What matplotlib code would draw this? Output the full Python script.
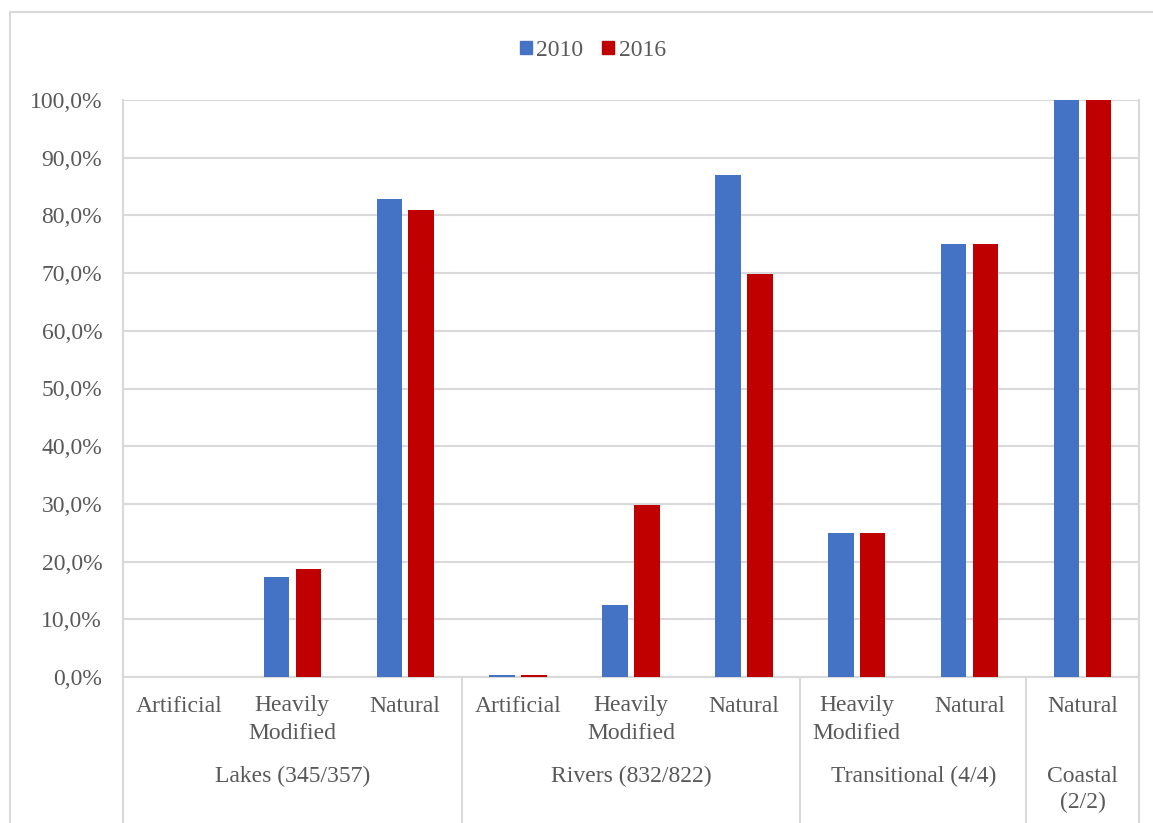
import numpy as np
import matplotlib
matplotlib.use("Agg")
import matplotlib.pyplot as plt
from matplotlib.patches import Patch
from matplotlib.lines import Line2D

# water body categories, grouped by type (counts 2010/2016 in group names)
groups = ["Lakes (345/357)", "Rivers (832/822)", "Transitional (4/4)", "Coastal\n(2/2)"]
group_sizes = [3, 3, 2, 1]
categories = ["Artificial", "Heavily\nModified", "Natural",
              "Artificial", "Heavily\nModified", "Natural",
              "Heavily\nModified", "Natural",
              "Natural"]
share_2010 = [0.0, 17.3, 82.8, 0.4, 12.4, 87.0, 25.0, 75.0, 100.0]
share_2016 = [0.0, 18.8, 80.9, 0.4, 29.8, 69.8, 25.0, 75.0, 100.0]
series = ["2010", "2016"]
colors = ["#4472C4", "#C00000"]

plt.rcParams["font.family"] = ["Liberation Serif", "DejaVu Serif"]
plt.rcParams["font.size"] = 17
grey = "#d9d9d9"
txt = "#595959"

W, H = 1153, 823
fig = plt.figure(figsize=(W / 100, H / 100), dpi=100)


def fx(px):
    return px / W


def fy(py):
    return 1 - py / H


# outer chart border (only top and left fall inside the image)
fig.add_artist(Line2D([fx(10), fx(10)], [fy(12), fy(830)], color=grey, lw=1.5))
fig.add_artist(Line2D([fx(10), fx(1160)], [fy(12), fy(12)], color=grey, lw=1.5))

ax = fig.add_axes([fx(123), fy(677), fx(1139) - fx(123), fy(100) - fy(677)])

x = np.arange(len(categories))
width = 0.225
off = 0.141
ax.bar(x - off, share_2010, width, color=colors[0], label=series[0], zorder=3)
ax.bar(x + off, share_2016, width, color=colors[1], label=series[1], zorder=3)

ax.set_xlim(-0.5, len(categories) - 0.5)
ax.set_ylim(0, 100)
ax.set_yticks(np.arange(0, 101, 10))
ax.set_yticklabels([f"{v:.1f}%".replace(".", ",") for v in np.arange(0, 101, 10)])
ax.tick_params(axis="y", length=0, pad=15, colors=txt)
ax.set_xticks([])
ax.grid(axis="y", color=grey, lw=1.5, zorder=0)
ax.set_axisbelow(True)
for side in ["left", "right", "bottom"]:
    ax.spines[side].set_color(grey)
    ax.spines[side].set_linewidth(1.5)
ax.spines["top"].set_visible(False)

# two-level category axis below the plot
trans = ax.get_xaxis_transform()
ybot = -(823 - 677) / (677 - 100)
bounds = np.concatenate([[0], np.cumsum(group_sizes)]) - 0.5
for b in bounds:
    ax.add_line(Line2D([b, b], [0, ybot - 0.05], transform=trans, color=grey,
                       lw=1.5, clip_on=False))


def ax_y(py):
    return -(py - 677) / (677 - 100)


for xi, lab in zip(x, categories):
    for k, line in enumerate(lab.split("\n")):
        ax.text(xi, ax_y(711.5 + 27.5 * k), line, transform=trans, ha="center",
                va="baseline", color=txt)

for i, g in enumerate(groups):
    center = (bounds[i] + bounds[i + 1]) / 2
    for k, line in enumerate(g.split("\n")):
        ax.text(center, ax_y(782 + 26.5 * k), line, transform=trans, ha="center",
                va="baseline", color=txt)

handles = [Patch(color=c, label=s) for c, s in zip(colors, series)]
fig.legend(handles=handles, loc="center", bbox_to_anchor=(fx(593), fy(50.5)), ncol=2,
           frameon=False, handlelength=0.51, handleheight=0.51, handletextpad=0.17,
           columnspacing=0.8, labelcolor=txt, borderpad=0)

fig.savefig("out.png", dpi=100)
